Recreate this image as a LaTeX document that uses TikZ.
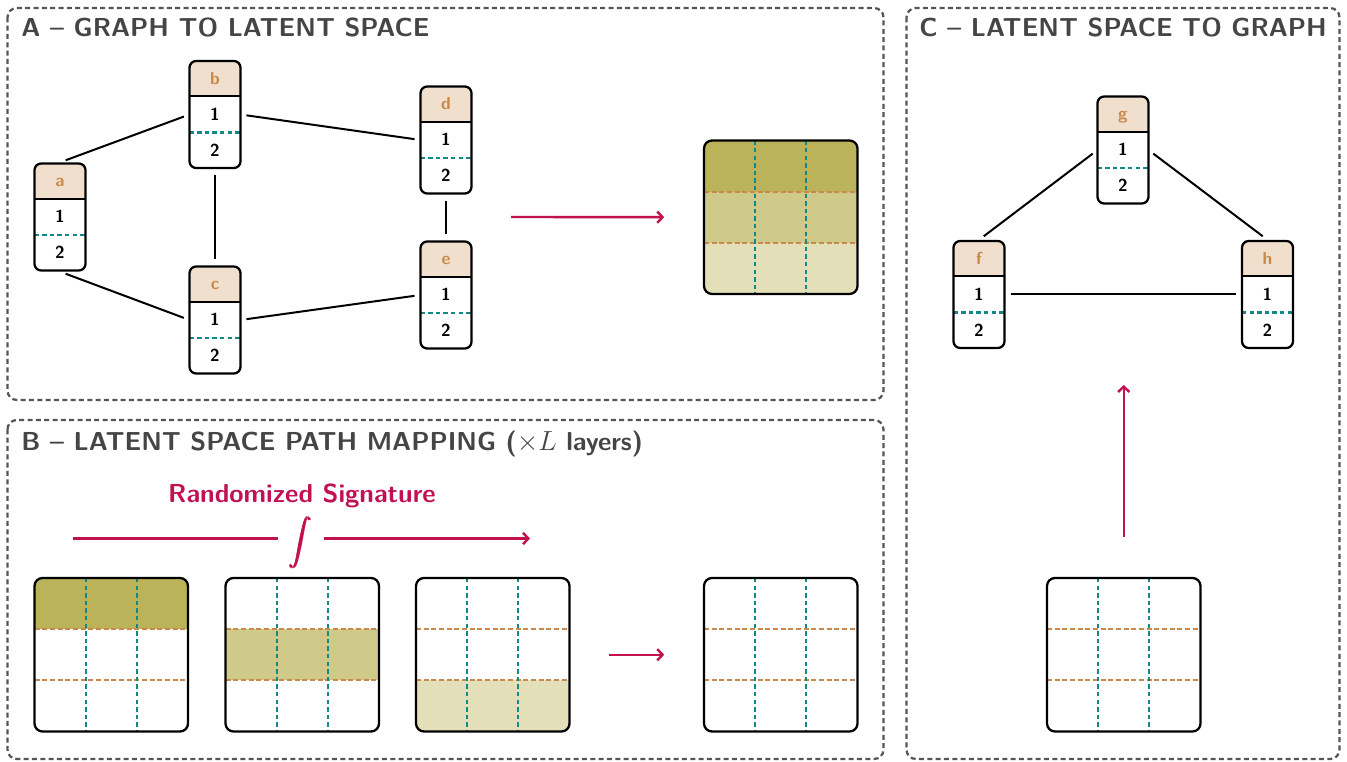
\documentclass[tikz,border=0pt]{standalone}
\usepackage{amsmath}
\usetikzlibrary{arrows.meta,fit,calc}
\definecolor{crim}{HTML}{C2114F}
\definecolor{panelgrey}{HTML}{555555}
\definecolor{titlegrey}{HTML}{454545}
\definecolor{headfill}{HTML}{EFDFCC}
\definecolor{lettercol}{HTML}{C8894B}
\definecolor{tealc}{HTML}{138888}
\definecolor{olA}{HTML}{BBB35A}
\definecolor{olB}{HTML}{CFC98A}
\definecolor{olC}{HTML}{E3DFB8}
\tikzset{
  panel/.style={draw=panelgrey, line width=1.7pt, dash pattern=on 3.75pt off 2.5pt, rounded corners=7pt},
  ptitle/.style={anchor=base west, text=titlegrey, inner sep=0pt, font=\sffamily\bfseries\fontsize{19.5}{22}\selectfont},
  gframe/.style={draw, line width=1.7pt, rounded corners=5pt, inner sep=0pt},
  mframe/.style={draw, line width=1.7pt, rounded corners=6pt, inner sep=0pt},
  lettertxt/.style={anchor=base, inner sep=0pt, text=lettercol, font=\sffamily\bfseries\fontsize{13}{14}\selectfont},
  digit/.style={anchor=base, inner sep=0pt, font=\sffamily\bfseries\fontsize{13}{14}\selectfont},
  gedge/.style={line width=1.5pt, shorten <=4.5pt, shorten >=4.5pt},
  tealdash/.style={draw=tealc, line width=1.6pt, dash pattern=on 3.3pt off 2.4pt},
  orangedash/.style={draw=lettercol, line width=1.5pt, dash pattern=on 3.75pt off 2pt},
  crarrow/.style={draw=crim, line width=1.8pt, -{Straight Barb[length=4pt,width=8.5pt]}},
  crline/.style={draw=crim, line width=1.8pt},
}
\newcommand\gnode[4]{%
  \pgfmathsetmacro\gL{#2}\pgfmathsetmacro\gR{#2+51}%
  \pgfmathsetmacro\gT{#3}\pgfmathsetmacro\gB{#3+107}%
  \pgfmathsetmacro\gH{#3+35.5}\pgfmathsetmacro\gD{#3+71.5}%
  \pgfmathsetmacro\gC{#2+25.5}%
  \begin{scope}
    \clip[rounded corners=5pt] (\gL,\gT) rectangle (\gR,\gB);
    \fill[headfill] (\gL,\gT) rectangle (\gR,\gH);
  \end{scope}
  \draw[tealdash] (\gL,\gD) -- (\gR,\gD);
  \draw[line width=1.5pt] (\gL,\gH) -- (\gR,\gH);
  \node[gframe, fit={(\gL,\gT) (\gR,\gB)}] (#1) {};
  \node[lettertxt] (#1-h) at (\gC,{#3+23.5}) {#4};
  \node[digit] (#1-1) at (\gC,{#3+59.5}) {1};
  \node[digit] (#1-2) at (\gC,{#3+95.5}) {2};
  \coordinate (#1-w) at (\gL,{#3+53.5});
  \coordinate (#1-e) at (\gR,{#3+53.5});
}
\newcommand\lmat[6]{%
  \pgfmathsetmacro\mL{#2}\pgfmathsetmacro\mR{#2+153.5}%
  \pgfmathsetmacro\mT{#3}\pgfmathsetmacro\mB{#3+153.5}%
  \pgfmathsetmacro\mrA{#3+51.17}\pgfmathsetmacro\mrB{#3+102.33}%
  \pgfmathsetmacro\mcA{#2+51.17}\pgfmathsetmacro\mcB{#2+102.33}%
  \begin{scope}
    \clip[rounded corners=6pt] (\mL,\mT) rectangle (\mR,\mB);
    \fill[#4] (\mL,\mT) rectangle (\mR,\mrA);
    \fill[#5] (\mL,\mrA) rectangle (\mR,\mrB);
    \fill[#6] (\mL,\mrB) rectangle (\mR,\mB);
  \end{scope}
  \draw[orangedash] (\mL,\mrA) -- (\mR,\mrA) (\mL,\mrB) -- (\mR,\mrB);
  \draw[tealdash] (\mcA,\mT) -- (\mcA,\mB) (\mcB,\mT) -- (\mcB,\mB);
  \node[mframe, fit={(\mL,\mT) (\mR,\mB)}] (#1) {};
}
\begin{document}
\begin{tikzpicture}[x=0.75pt,y=-0.75pt]
\useasboundingbox (0,0) rectangle (1347,762);
% panels
\draw[panel] (7.5,8) rectangle (883.5,400);
\draw[panel] (7.5,420) rectangle (883.5,759);
\draw[panel] (906.5,8) rectangle (1339.5,759);
\node[ptitle] (tA) at (21,36.7) {A -- GRAPH TO LATENT SPACE};
\node[ptitle] (tB) at (21,451) {B -- LATENT SPACE PATH MAPPING ($\times L$ layers)};
\node[ptitle] (tC) at (919,36.7) {C -- LATENT SPACE TO GRAPH};
% graph A
\gnode{a}{34.5}{163.5}{a}
\gnode{b}{189.5}{61}{b}
\gnode{c}{189.5}{266.5}{c}
\gnode{d}{420.5}{86.5}{d}
\gnode{e}{420.5}{241.5}{e}
\draw[gedge] (a.north) -- (b-w);
\draw[gedge] (b-e) -- (d-w);
\draw[gedge] (b.south) -- (c.north);
\draw[gedge] (d.south) -- (e.north);
\draw[gedge] (a.south) -- (c-w);
\draw[gedge] (c-e) -- (e-w);
% latent A
\lmat{mA}{704}{140.5}{olA}{olB}{olC}
\coordinate (arrAs) at (511,217);
\draw[crarrow, shorten >=29pt] (arrAs) -- (mA.west);
% panel B
\node[text=crim, inner sep=0pt, anchor=base, font=\sffamily\bfseries\fontsize{19.5}{22}\selectfont] (rs) at (302,502.3) {Randomized Signature};
\node[text=crim, inner sep=0pt, minimum width=33.75pt, anchor=base, font=\fontsize{18}{20}\selectfont] (int) at (301,548.5) {\smash{$\displaystyle\pmb{\int}$}};
\coordinate (rsS) at (73,538.5);
\coordinate (rsE) at (530,538.5);
\draw[crline] (rsS) -- (int.west |- rsS);
\draw[crarrow] (int.east |- rsE) -- (rsE);
\lmat{m1}{34.5}{578}{olA}{white}{white}
\lmat{m2}{225.5}{578}{white}{olB}{white}
\lmat{m3}{416}{578}{white}{white}{olC}
\lmat{m4}{704}{578}{white}{white}{white}
\draw[crarrow, shorten <=29pt, shorten >=29pt] (m3.east) -- (m4.west);
% panel C
\gnode{f}{953.5}{241}{f}
\gnode{g}{1097.5}{96.5}{g}
\gnode{h}{1242}{241}{h}
\draw[gedge] (f.north) -- (g-w);
\draw[gedge] (g-e) -- (h.north);
\draw[gedge] (f-e) -- (h-w);
\lmat{mC}{1047}{578}{white}{white}{white}
\coordinate (cTip) at (mC.north |- 0,385);
\draw[crarrow, shorten <=30pt] (mC.north) -- (cTip);
\end{tikzpicture}
\end{document}
